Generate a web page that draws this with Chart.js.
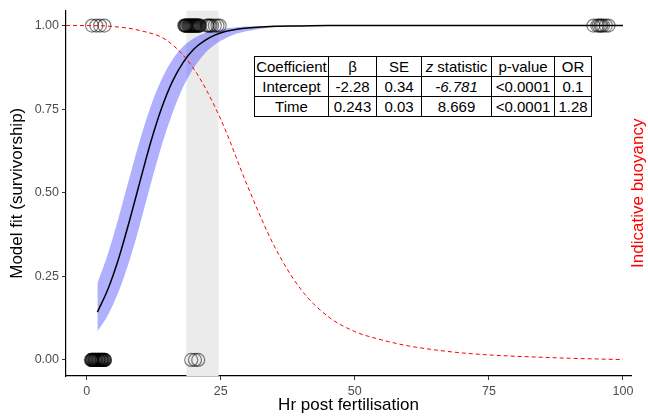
<!DOCTYPE html>
<html>
<head>
<meta charset="utf-8">
<script src="https://cdn.jsdelivr.net/npm/chart.js@4.4.1/dist/chart.umd.min.js"></script>
<style>
  html, body { margin: 0; padding: 0; background: #fff; }
  #wrap { position: relative; width: 648px; height: 416px; }
  #coefTable {
    position: absolute; left: 254px; top: 56px;
    border-collapse: collapse; background: #fff;
    font-family: "Liberation Sans", Arial, sans-serif; font-size: 15px; color: #000;
  }
  #coefTable td { border: 1px solid #000; padding: 0 1px; height: 19px; text-align: center; white-space: nowrap; }
</style>
</head>
<body>
<div id="wrap">
  <canvas id="chart" width="648" height="416"></canvas>
  <table id="coefTable">
    <tr><td style="width:71px">Coefficient</td><td style="width:45px">β</td><td style="width:42px">SE</td><td style="width:67px"><i>z</i> statistic</td><td style="width:60px">p-value</td><td style="width:34px">OR</td></tr>
    <tr><td>Intercept</td><td>-2.28</td><td>0.34</td><td><i>-6.781</i></td><td>&lt;0.0001</td><td>0.1</td></tr>
    <tr><td>Time</td><td>0.243</td><td>0.03</td><td>8.669</td><td>&lt;0.0001</td><td>1.28</td></tr>
  </table>
</div>
<script>
// values
const fitHours = [2, 4, 6, 8, 10, 12, 14, 16, 18, 20, 22, 24, 26, 28, 30, 35, 40, 45, 50, 60, 70, 80, 90, 100];
const fitValue = [0.143, 0.213, 0.305, 0.417, 0.537, 0.654, 0.754, 0.833, 0.890, 0.930, 0.955, 0.972, 0.983, 0.989, 0.993, 0.998, 0.999, 1, 1, 1, 1, 1, 1, 1];
const fitLower = [0.085, 0.135, 0.206, 0.298, 0.409, 0.529, 0.642, 0.738, 0.817, 0.874, 0.916, 0.944, 0.963, 0.976, 0.984, 0.995, 0.998, 0.999, 1, 1, 1, 1, 1, 1];
const fitUpper = [0.229, 0.319, 0.428, 0.546, 0.661, 0.761, 0.840, 0.898, 0.937, 0.962, 0.977, 0.986, 0.992, 0.995, 0.997, 0.999, 1, 1, 1, 1, 1, 1, 1, 1];

const buoyHours = [-3.85, 0, 5, 10, 15, 20, 25, 30, 35, 40, 45, 50, 55, 60, 65, 70, 75, 80, 85, 90, 95, 100];
const buoyValue = [1.0, 1.0, 0.997, 0.985, 0.955, 0.87, 0.72, 0.52, 0.34, 0.21, 0.13, 0.085, 0.06, 0.042, 0.03, 0.021, 0.015, 0.011, 0.008, 0.005, 0.003, 0.001];

const aliveHours = [1.0, 1.8, 2.5, 3.3,
  18.2, 18.4, 18.6, 18.9, 19.1, 19.3, 19.5, 19.7, 19.9, 20.1, 20.3, 20.5, 20.8, 21.0, 21.1,
  18.3, 18.7, 19.0, 19.4, 19.6, 20.0, 20.2, 20.6, 20.9, 18.5, 19.2, 19.8, 20.4,
  22.4, 22.9, 23.4, 23.9, 24.4, 24.8, 22.6, 23.1,
  94.5, 95.2, 95.8, 96.3, 96.8, 97.3, 96.0, 95.5];
const deadHours = [0.8, 1.0, 1.2, 1.4, 1.6, 1.8, 2.0, 2.2, 2.4, 2.6, 2.8, 3.0, 3.2, 3.4,
  0.9, 1.1, 1.3, 1.5, 1.7, 1.9, 2.1, 2.3, 2.5, 2.7, 2.9, 3.1, 3.3, 1.0, 1.6, 2.2, 2.8, 3.4,
  19.5, 20.2, 20.8];

const bandStart = 18.6;
const bandEnd = 24.6;

const xTicks = [0, 25, 50, 75, 100];
const yTicks = [0, 0.25, 0.5, 0.75, 1];

const toXY = (xs, ys) => xs.map((x, i) => ({ x: x, y: ys[i] }));

const bandPlugin = {
  id: 'band',
  beforeDatasetsDraw(chart) {
    const { ctx, chartArea, scales } = chart;
    const x0 = scales.x.getPixelForValue(bandStart);
    const x1 = scales.x.getPixelForValue(bandEnd);
    ctx.save();
    ctx.fillStyle = '#ebebeb';
    ctx.fillRect(x0, chartArea.top, x1 - x0, chartArea.bottom - chartArea.top);
    ctx.restore();
  }
};

const rightTitle = {
  id: 'rightTitle',
  afterDraw(chart) {
    const { ctx, chartArea } = chart;
    ctx.save();
    ctx.translate(638, (chartArea.top + chartArea.bottom) / 2);
    ctx.rotate(-Math.PI / 2);
    ctx.fillStyle = '#ff0000';
    ctx.font = '17px "Liberation Sans", Arial, sans-serif';
    ctx.textAlign = 'center';
    ctx.textBaseline = 'middle';
    ctx.fillText('Indicative buoyancy', 0, 0);
    ctx.restore();
  }
};

const tickFont = { family: '"Liberation Sans", Arial, sans-serif', size: 12.5 };
const titleFont = { family: '"Liberation Sans", Arial, sans-serif', size: 17 };

new Chart(document.getElementById('chart'), {
  type: 'scatter',
  data: {
    datasets: [
      {
        type: 'line', data: toXY(buoyHours, buoyValue), order: 0,
        borderColor: '#ff0000', borderWidth: 1, borderDash: [4, 3],
        pointRadius: 0, fill: false, cubicInterpolationMode: 'monotone'
      },
      {
        data: aliveHours.map(x => ({ x: x, y: 1 })).concat(deadHours.map(x => ({ x: x, y: 0 }))),
        order: 1, pointRadius: 6.5, borderWidth: 1.2,
        borderColor: 'rgba(0,0,0,0.5)', backgroundColor: 'rgba(0,0,0,0)', clip: false
      },
      {
        type: 'line', data: toXY(fitHours, fitValue), order: 2,
        borderColor: '#000', borderWidth: 1.5, pointRadius: 0, fill: false,
        cubicInterpolationMode: 'monotone'
      },
      {
        type: 'line', data: toXY(fitHours, fitLower), order: 4,
        borderWidth: 0, borderColor: 'rgba(0,0,0,0)', pointRadius: 0, fill: false,
        cubicInterpolationMode: 'monotone'
      },
      {
        type: 'line', data: toXY(fitHours, fitUpper), order: 3,
        borderWidth: 0, borderColor: 'rgba(0,0,0,0)', pointRadius: 0,
        fill: '-1', backgroundColor: 'rgba(80,80,255,0.45)',
        cubicInterpolationMode: 'monotone'
      }
    ]
  },
  options: {
    responsive: false,
    animation: false,
    devicePixelRatio: 1,
    events: [],
    layout: { padding: { top: 10, right: 17, left: 0, bottom: 0 } },
    plugins: { legend: { display: false }, tooltip: { enabled: false } },
    scales: {
      x: {
        type: 'linear', min: -3.85, max: 101.5,
        afterBuildTicks: s => { s.ticks = xTicks.map(v => ({ value: v })); },
        afterFit: s => { s.height = 40; },
        ticks: { color: '#4d4d4d', font: tickFont, padding: 4, maxRotation: 0 },
        grid: { drawOnChartArea: false, tickLength: 4, color: '#333' },
        border: { color: '#000', width: 1.2 },
        title: { display: true, text: 'Hr post fertilisation', color: '#000', font: titleFont, padding: { top: 0, bottom: 0 } }
      },
      y: {
        type: 'linear', min: -0.048, max: 1.045,
        afterBuildTicks: s => { s.ticks = yTicks.map(v => ({ value: v })); },
        afterFit: s => { s.width = 66; },
        ticks: { color: '#4d4d4d', font: tickFont, padding: 3, callback: v => v.toFixed(2) },
        grid: { drawOnChartArea: false, tickLength: 4, color: '#333' },
        border: { color: '#000', width: 1.2 },
        title: { display: true, text: 'Model fit (survivorship)', color: '#000', font: titleFont, padding: { top: 7, bottom: 0 } }
      }
    }
  },
  plugins: [bandPlugin, rightTitle]
});
</script>
</body>
</html>
